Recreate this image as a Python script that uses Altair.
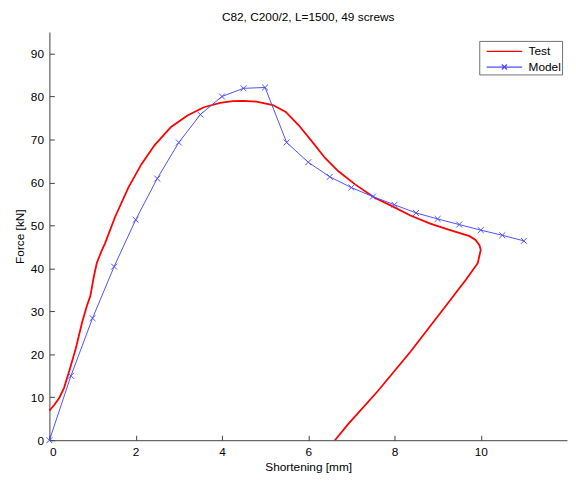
import altair as alt
import pandas as pd

# ---- data ----
series_names = ["Test", "Model"]
series_colors = ["#ff0000", "#4f4fff"]

test_x = [0.0, 0.12, 0.23, 0.34, 0.46, 0.61, 0.76, 0.87, 0.95, 1.03, 1.10, 1.22,
          1.29, 1.52, 1.83, 2.13, 2.44, 2.82, 3.20, 3.58, 3.96, 4.25, 4.50, 4.80,
          5.18, 5.48, 5.78, 6.09, 6.39, 6.70, 7.08, 7.53, 7.92, 8.37, 8.83, 9.29,
          9.74, 9.88, 9.97, 10.0, 9.93, 9.66, 9.13, 8.37, 7.61, 6.92, 6.62]
test_y = [6.9, 8.3, 9.9, 12.2, 16.1, 21.3, 27.5, 31.3, 33.6, 38.1, 41.3, 44.3,
          45.8, 51.9, 58.8, 64.2, 68.7, 72.9, 75.6, 77.5, 78.5, 78.9, 79.0, 78.8,
          78.0, 76.4, 73.3, 69.5, 65.7, 62.6, 59.6, 56.5, 54.6, 52.3, 50.4, 48.9,
          47.5, 46.6, 45.4, 44.3, 41.2, 37.4, 30.5, 20.6, 11.4, 3.7, 0.0]

model_x = [0.0, 0.5, 1.0, 1.5, 2.0, 2.5, 3.0, 3.5, 4.0, 4.5, 5.0, 5.5, 6.0, 6.5,
           7.0, 7.5, 8.0, 8.5, 9.0, 9.5, 10.0, 10.5, 11.0]
model_y = [0.0, 15.0, 28.4, 40.4, 51.3, 60.9, 69.3, 75.8, 80.0, 81.9, 82.1, 69.3,
           64.7, 61.3, 58.8, 56.7, 54.8, 52.9, 51.5, 50.2, 48.9, 47.7, 46.4]

x_ticks = [0, 2, 4, 6, 8, 10]
y_ticks = [0, 10, 20, 30, 40, 50, 60, 70, 80, 90]

title_text = "C82, C200/2, L=1500, 49 screws"
x_title = "Shortening [mm]"
y_title = "Force [kN]"

# ---- tables ----
test_df = pd.DataFrame({"x": test_x, "y": test_y, "i": range(len(test_x)), "series": "Test"})
model_df = pd.DataFrame({"x": model_x, "y": model_y, "i": range(len(model_x)), "series": "Model"})
legend_df = pd.DataFrame({"series": series_names})

W, H = 525, 414
FONT = "Liberation Sans"
FS = 12

xs = alt.Scale(domain=[0, 12], nice=False, zero=False)
ys = alt.Scale(domain=[0, 95], nice=False, zero=False)

main_x_axis = alt.Axis(orient="bottom", values=x_ticks, ticks=False, tickSize=0,
                       labelPadding=7, title=x_title, titlePadding=4,
                       domainColor="#404040", labelFontSize=FS, titleFontSize=FS,
                       titleFontWeight="normal", labelColor="black", titleColor="black",
                       labelFont=FONT, titleFont=FONT, grid=False)
main_y_axis = alt.Axis(orient="left", values=y_ticks, ticks=False, tickSize=0,
                       labelPadding=6, title=y_title, titlePadding=4,
                       domainColor="#404040", labelFontSize=FS, titleFontSize=FS,
                       titleFontWeight="normal", labelColor="black", titleColor="black",
                       labelFont=FONT, titleFont=FONT, grid=False)
tick_x_axis = alt.Axis(orient="top", offset=-H, values=x_ticks, labels=False, domain=False,
                       tickSize=5, tickColor="#404040", title=None, grid=False)
tick_y_axis = alt.Axis(orient="right", offset=-W, values=y_ticks, labels=False, domain=False,
                       tickSize=5, tickColor="#404040", title=None, grid=False)

test_line = alt.Chart(test_df).mark_line(color=series_colors[0], strokeWidth=1.8).encode(
    x=alt.X("x:Q", scale=xs, axis=main_x_axis),
    y=alt.Y("y:Q", scale=ys, axis=main_y_axis),
    order="i:Q",
)

model_line = alt.Chart(model_df).mark_line(color=series_colors[1], strokeWidth=1).encode(
    x=alt.X("x:Q", scale=xs, axis=tick_x_axis),
    y=alt.Y("y:Q", scale=ys, axis=tick_y_axis),
    order="i:Q",
)

xmark = "M-1,-1L1,1M-1,1L1,-1"
model_pts = alt.Chart(model_df).mark_point(
    shape=xmark, filled=False, color=series_colors[1], size=36, strokeWidth=1, opacity=1
).encode(
    x=alt.X("x:Q", scale=xs, axis=None),
    y=alt.Y("y:Q", scale=ys, axis=None),
)

legend_shapes = ["M-2.12,0L2.12,0",
                 "M-2.12,0L2.12,0M-0.3,-0.3L0.3,0.3M-0.3,0.3L0.3,-0.3"]
legend_layer = alt.Chart(legend_df).mark_point(filled=False, opacity=0).encode(
    color=alt.Color("series:N", scale=alt.Scale(domain=series_names, range=series_colors),
                    legend=alt.Legend(title=None, orient="none", legendX=436, legendY=9,
                                      symbolSize=289, symbolOpacity=1, symbolStrokeWidth=1.3,
                                      symbolOffset=15, labelFontSize=FS, labelFont=FONT,
                                      labelColor="black", labelOffset=15, padding=1,
                                      rowPadding=0, strokeColor="#707070", fillColor="white")),
    shape=alt.Shape("series:N", scale=alt.Scale(domain=series_names, range=legend_shapes)),
)

chart = alt.layer(test_line, model_line, model_pts, legend_layer).resolve_axis(
    x="independent", y="independent"
).properties(
    width=W, height=H,
    title=alt.TitleParams(title_text, fontSize=FS, font=FONT, fontWeight="normal",
                          color="black", offset=8, anchor="middle"),
    autosize=alt.AutoSizeParams(type="none"),
    padding={"left": 42, "top": 21, "right": 1, "bottom": 40},
).configure_view(stroke=None).configure_axis(grid=False)

chart.save("out.html", embed_options={"renderer": "svg", "actions": False})
